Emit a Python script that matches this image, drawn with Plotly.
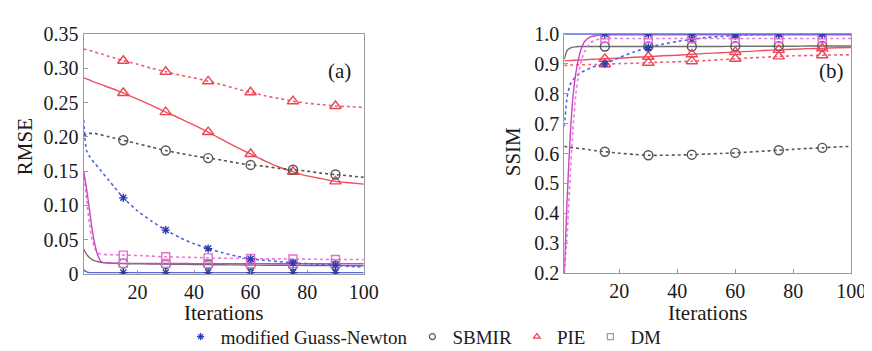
import plotly.graph_objects as go

# ---------------- data ----------------
X = [1, 2, 3, 4, 5, 6, 7, 8, 10, 12, 15, 20, 25, 30, 35, 40, 45, 50, 55, 60,
     65, 70, 75, 80, 85, 90, 95, 100]
MARKER_X = [15, 30, 45, 60, 75, 90]

# RMSE (panel a)
rmse_mgn_dot = [0.225, 0.180, 0.172, 0.166, 0.161, 0.156, 0.151, 0.146, 0.136, 0.126,
                0.111, 0.092, 0.077, 0.064, 0.053, 0.044, 0.037, 0.031, 0.026, 0.022,
                0.020, 0.018, 0.016, 0.015, 0.014, 0.013, 0.011, 0.010]
rmse_mgn_sol = [0.006, 0.003, 0.002, 0.002, 0.002, 0.002, 0.002, 0.002, 0.002, 0.002,
                0.002, 0.002, 0.002, 0.002, 0.002, 0.002, 0.002, 0.002, 0.002, 0.002,
                0.002, 0.002, 0.002, 0.002, 0.002, 0.002, 0.002, 0.002]
rmse_sbm_dot = [0.201, 0.204, 0.205, 0.205, 0.205, 0.204, 0.203, 0.202, 0.200, 0.198,
                0.195, 0.190, 0.185, 0.180, 0.176, 0.172, 0.169, 0.166, 0.162, 0.159,
                0.157, 0.154, 0.152, 0.150, 0.147, 0.145, 0.143, 0.141]
rmse_sbm_sol = [0.036, 0.029, 0.024, 0.021, 0.019, 0.018, 0.017, 0.0165, 0.016, 0.0155,
                0.015, 0.0148, 0.0145, 0.0143, 0.014, 0.0138, 0.0136, 0.0134, 0.0132, 0.013,
                0.0128, 0.0127, 0.0125, 0.0124, 0.0123, 0.0122, 0.0121, 0.012]
rmse_pie_dot = [0.328, 0.327, 0.326, 0.325, 0.324, 0.322, 0.321, 0.320, 0.317, 0.315,
                0.311, 0.306, 0.300, 0.295, 0.290, 0.286, 0.281, 0.276, 0.270, 0.265,
                0.260, 0.256, 0.252, 0.249, 0.247, 0.245, 0.244, 0.243]
rmse_pie_sol = [0.286, 0.2845, 0.283, 0.281, 0.2795, 0.278, 0.2765, 0.275, 0.272, 0.269,
                0.264, 0.255, 0.246, 0.236, 0.227, 0.217, 0.207, 0.196, 0.185, 0.175,
                0.165, 0.156, 0.149, 0.143, 0.139, 0.135, 0.133, 0.131]
rmse_dm_dot = [0.150, 0.110, 0.075, 0.050, 0.037, 0.031, 0.029, 0.0285, 0.028, 0.028,
               0.0275, 0.027, 0.026, 0.025, 0.0245, 0.024, 0.0235, 0.023, 0.0228, 0.0225,
               0.022, 0.022, 0.0218, 0.0215, 0.0213, 0.021, 0.021, 0.021]
rmse_dm_sol = [0.150, 0.125, 0.095, 0.065, 0.042, 0.027, 0.019, 0.0165, 0.016, 0.0158,
               0.0155, 0.0154, 0.0153, 0.0152, 0.0152, 0.0151, 0.0151, 0.015, 0.015, 0.015,
               0.015, 0.0149, 0.0149, 0.0149, 0.0148, 0.0148, 0.0148, 0.0148]

# SSIM (panel b)
ssim_mgn_dot = [0.690, 0.790, 0.830, 0.846, 0.857, 0.865, 0.872, 0.877, 0.886, 0.893,
                0.900, 0.921, 0.940, 0.955, 0.966, 0.975, 0.982, 0.988, 0.992, 0.995,
                0.997, 0.998, 0.999, 1.000, 1.000, 1.000, 1.000, 1.000]
ssim_mgn_sol = [1.000] * 28
ssim_sbm_dot = [0.624, 0.622, 0.620, 0.619, 0.618, 0.617, 0.616, 0.615, 0.612, 0.609,
                0.606, 0.601, 0.597, 0.594, 0.594, 0.595, 0.596, 0.598, 0.600, 0.602,
                0.605, 0.608, 0.611, 0.614, 0.617, 0.619, 0.622, 0.624]
ssim_sbm_sol = [0.915, 0.945, 0.953, 0.956, 0.957, 0.958, 0.958, 0.958, 0.958, 0.958,
                0.958, 0.958, 0.958, 0.958, 0.958, 0.958, 0.958, 0.958, 0.958, 0.959,
                0.959, 0.959, 0.959, 0.959, 0.960, 0.960, 0.960, 0.960]
ssim_pie_dot = [0.895, 0.895, 0.896, 0.896, 0.896, 0.897, 0.897, 0.897, 0.898, 0.898,
                0.899, 0.901, 0.902, 0.904, 0.906, 0.907, 0.909, 0.911, 0.914, 0.917,
                0.920, 0.922, 0.925, 0.927, 0.928, 0.929, 0.930, 0.930]
ssim_pie_sol = [0.910, 0.911, 0.911, 0.912, 0.912, 0.913, 0.913, 0.914, 0.915, 0.916,
                0.917, 0.919, 0.922, 0.924, 0.927, 0.929, 0.932, 0.935, 0.937, 0.940,
                0.942, 0.945, 0.947, 0.949, 0.951, 0.952, 0.954, 0.955]
ssim_dm_dot = [0.200, 0.330, 0.520, 0.680, 0.800, 0.870, 0.915, 0.940, 0.970, 0.980,
               0.985, 0.985, 0.985, 0.985, 0.985, 0.985, 0.985, 0.985, 0.985, 0.985,
               0.985, 0.985, 0.985, 0.985, 0.985, 0.985, 0.985, 0.985]
ssim_dm_sol = [0.200, 0.450, 0.650, 0.790, 0.870, 0.920, 0.955, 0.975, 0.990, 0.995,
               0.997, 0.997, 0.997, 0.997, 0.997, 0.997, 0.997, 0.997, 0.997, 0.997,
               0.997, 0.997, 0.997, 0.997, 0.997, 0.997, 0.997, 0.997]

LEGEND_NAMES = ["modified Guass-Newton", "SBMIR", "PIE", "DM"]

X_TICKS = [20, 40, 60, 80, 100]
RMSE_TICKS = [0, 0.05, 0.10, 0.15, 0.20, 0.25, 0.30, 0.35]
RMSE_TICKTEXT = ["0", "0.05", "0.10", "0.15", "0.20", "0.25", "0.30", "0.35"]
SSIM_TICKS = [0.2, 0.3, 0.4, 0.5, 0.6, 0.7, 0.8, 0.9, 1.0]
SSIM_TICKTEXT = ["0.2", "0.3", "0.4", "0.5", "0.6", "0.7", "0.8", "0.9", "1.0"]

# ---------------- styles ----------------
FONT = "'Liberation Serif', 'DejaVu Serif', serif"
STY = {
    "mgn": dict(sym="asterisk-open", size=7, mcol="#2a3cb0", sol="#5a6ae0", dot="#4a62dc"),
    "sbm": dict(sym="circle-open", size=9, mcol="#555555", sol="#6e6e6e", dot="#555555"),
    "pie": dict(sym="triangle-up-open", size=10, mcol="#ec4656", sol="#f0505e", dot="#f06070"),
    "dm": dict(sym="square-open", size=8, mcol="#e070d0", sol="#cc44c4", dot="#e878dc"),
}

fig = go.Figure()


def add_series(key, y, dash, xa, ya):
    s = STY[key]
    col = s["dot"] if dash == "dot" else s["sol"]
    fig.add_trace(go.Scatter(x=X, y=y, mode="lines", xaxis=xa, yaxis=ya,
                             line=dict(color=col, width=1.6 if dash == "dot" else 1.4,
                                       dash=dash, shape="spline", smoothing=0.6),
                             showlegend=False, hoverinfo="skip"))
    mx = [xv for xv in X if xv in MARKER_X]
    my = [yv for xv, yv in zip(X, y) if xv in MARKER_X]
    fig.add_trace(go.Scatter(x=mx, y=my, mode="markers", xaxis=xa, yaxis=ya,
                             marker=dict(symbol=s["sym"], size=s["size"], color=s["mcol"],
                                         line=dict(color=s["mcol"], width=1.4)),
                             showlegend=False, hoverinfo="skip"))


# panel (a)
add_series("pie", rmse_pie_dot, "dot", "x", "y")
add_series("pie", rmse_pie_sol, "solid", "x", "y")
add_series("sbm", rmse_sbm_dot, "dot", "x", "y")
add_series("sbm", rmse_sbm_sol, "solid", "x", "y")
add_series("dm", rmse_dm_dot, "dot", "x", "y")
add_series("dm", rmse_dm_sol, "solid", "x", "y")
add_series("mgn", rmse_mgn_dot, "dot", "x", "y")
add_series("mgn", rmse_mgn_sol, "solid", "x", "y")

# panel (b)
add_series("sbm", ssim_sbm_dot, "dot", "x2", "y2")
add_series("sbm", ssim_sbm_sol, "solid", "x2", "y2")
add_series("pie", ssim_pie_dot, "dot", "x2", "y2")
add_series("pie", ssim_pie_sol, "solid", "x2", "y2")
add_series("mgn", ssim_mgn_dot, "dot", "x2", "y2")
add_series("dm", ssim_dm_dot, "dot", "x2", "y2")
add_series("dm", ssim_dm_sol, "solid", "x2", "y2")
add_series("mgn", ssim_mgn_sol, "solid", "x2", "y2")

# legend-only traces (markers only)
for key, name in zip(["mgn", "sbm", "pie", "dm"], LEGEND_NAMES):
    s = STY[key]
    fig.add_trace(go.Scatter(x=[None], y=[None], mode="markers", name=name,
                             marker=dict(symbol=s["sym"], size=6, color=s["mcol"],
                                         line=dict(color=s["mcol"], width=1.2))))

W, H = 872, 351
def px_x(p):
    return p / W
def px_y(p):
    return 1 - p / H

axis_common = dict(showgrid=False, zeroline=False, showline=True, mirror=True,
                   linecolor="#9a9a9a", linewidth=1.2, ticks="inside", ticklen=4,
                   tickcolor="#9a9a9a", tickfont=dict(family=FONT, size=20, color="#1a1a1a"))

fig.update_layout(
    width=W, height=H,
    margin=dict(l=0, r=0, t=0, b=0),
    paper_bgcolor="white", plot_bgcolor="white",
    font=dict(family=FONT, color="#1a1a1a"),
    xaxis=dict(domain=[px_x(77), px_x(362)], range=[1, 100], tickvals=X_TICKS,
               anchor="y", **axis_common),
    yaxis=dict(domain=[px_y(272), px_y(16)], range=[0, 0.35], tickvals=RMSE_TICKS,
               ticktext=RMSE_TICKTEXT, anchor="x", **axis_common),
    xaxis2=dict(domain=[px_x(566), px_x(858)], range=[1, 100], tickvals=X_TICKS,
                anchor="y2", **axis_common),
    yaxis2=dict(domain=[px_y(271), px_y(16)], range=[0.2, 1.0], tickvals=SSIM_TICKS,
                ticktext=SSIM_TICKTEXT, anchor="x2", **axis_common),
    legend=dict(orientation="h", x=0.485, xanchor="center", y=px_y(339), yanchor="middle",
                font=dict(family=FONT, size=19, color="#1a1a1a"),
                itemsizing="trace", tracegroupgap=0, itemwidth=30,
                bgcolor="rgba(0,0,0,0)"),
    showlegend=True,
)

ann_font = dict(family=FONT, size=21, color="#1a1a1a")
annotations = [
    dict(text="(a)", x=px_x(337), y=px_y(56)),
    dict(text="(b)", x=px_x(838), y=px_y(56)),
    dict(text="Iterations", x=px_x(219), y=px_y(314)),
    dict(text="Iterations", x=px_x(712), y=px_y(314)),
    dict(text="RMSE", x=px_x(18), y=px_y(136), textangle=-90),
    dict(text="SSIM", x=px_x(514), y=px_y(142), textangle=-90),
]
for a in annotations:
    fig.add_annotation(xref="paper", yref="paper", showarrow=False,
                       xanchor="center", yanchor="middle", font=ann_font, **a)

fig.write_html("out.html")
